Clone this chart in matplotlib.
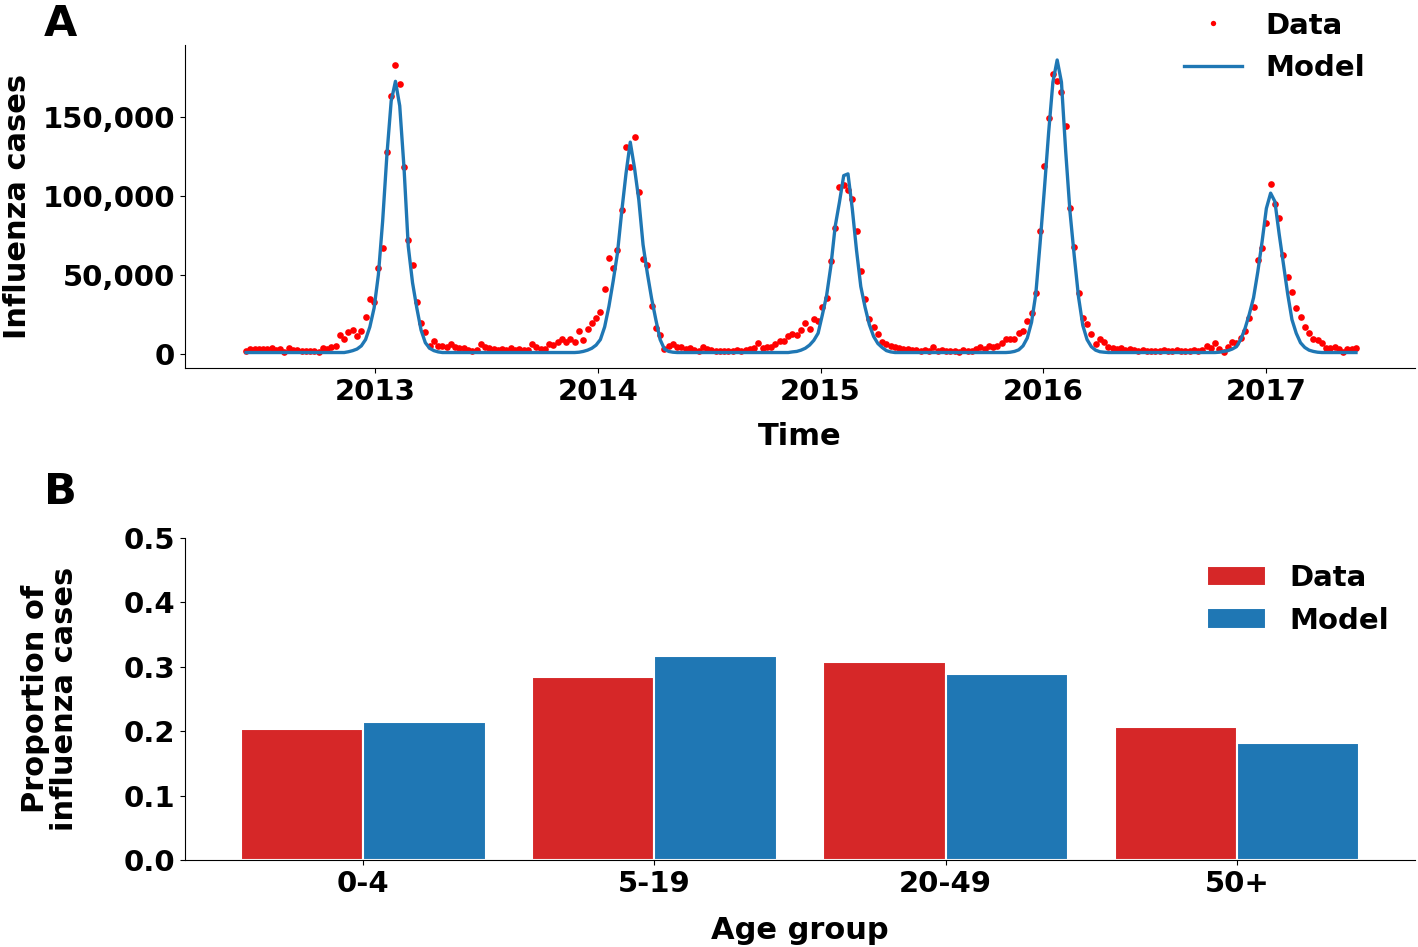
import matplotlib
matplotlib.use("Agg")
import matplotlib.pyplot as plt
import matplotlib.dates as mdates
from matplotlib.ticker import FuncFormatter
import numpy as np
import pandas as pd

# ---------------- Data (panel A): weekly influenza cases, in thousands ----------------
first_week = "2012-06-03"

cases_k = [
    # 2012-13 season
    1.5, 2.8, 3.2, 2.8, 3.0, 2.8, 3.5, 2.6, 3.0, 1.0, 3.6, 2.5, 2.2, 1.8, 2.0, 1.8, 1.5, 1.0, 3.5, 3.0, 4.5, 5.0,
    12, 9.5, 14, 15, 11.4, 14.6, 23, 35, 33, 54, 67, 128, 163, 183, 171, 118, 72, 56, 33, 19.6, 14, 5, 8,
    5, 5, 4, 6, 4.5, 3.5, 3.5, 2.5, 1.5, 2.5, 6.3, 4.5, 3.5, 3, 2.5, 3, 2.5, 3.5, 2.5, 3, 2.5, 2.5, 6.3, 4, 3.3, 3.3,
    # 2013-14 season
    6, 5.7, 7.6, 9.5, 7.6, 9.5, 7.6, 14.6, 8.9, 15.8, 19.6, 22.8, 26.6, 41, 60.8, 54, 66, 91, 131, 118, 137, 102.5,
    60, 56, 30, 16.5, 12, 3,
    5, 6, 4, 4, 3, 3.5, 2.5, 2, 4.4, 3.0, 2.5, 1.8, 1.5, 1.5, 2, 1.5, 2.5, 2, 2.5, 3, 3.5, 7, 3.5, 4, 4.5, 6,
    # 2014-15 season
    8, 8, 11.4, 12.7, 12, 15, 19.6, 15.8, 22, 21, 29.7, 35.4, 58.9, 79.8, 105.7, 107, 104, 98, 78, 52.5,
    34.8, 22, 17, 12.7, 7.6,
    6, 5, 4, 3.5, 3, 3, 2.5, 2.5, 2, 2.5, 2, 4.4, 2, 2.5, 1.5, 2, 1.5, 1, 2.5, 2, 1.5, 3,
    # 2015-16 season
    4.4, 3, 5, 4, 5, 7, 9.5, 9.5, 9.5, 13.3, 14.6, 21, 26, 38.6, 77.9, 119, 149, 177, 173, 166, 144, 92, 67.7,
    38.6, 22.8, 19, 12.7, 6.3, 9.5, 7.6,
    4.4, 3.5, 3, 3.5, 2.5, 3, 2.5, 2, 2.5, 2, 2, 1.5, 2, 2.5, 1.5, 2, 2.5, 2, 1.5, 2, 2.5, 2, 2.5,
    # 2016-17 season
    5, 3.8, 7, 3, 1.3, 4.4, 7.6, 7, 10, 14.6, 22.8, 29.7, 59.5, 67, 83, 107.6, 95, 86, 62.7, 48.7,
    39, 29, 23.4, 17, 13.3, 9.5, 9, 7, 3.8, 3.5, 4, 3, 1.3, 3, 3, 3.5,
]

model_k = [
    0.8, 0.8, 0.8, 0.8, 0.8, 0.8, 0.8, 0.8, 0.8, 0.8, 0.8, 0.8, 0.8, 0.8, 0.8, 0.8, 0.8, 0.8, 0.8, 0.8, 0.8, 0.8, 0.8, 0.8,
    1.3, 2, 3, 5, 9, 17, 29, 50, 84, 126, 160, 172.5, 157, 118, 68, 45, 29, 15, 7, 3.5, 2, 1.2,
    0.8, 0.8, 0.8, 0.8, 0.8, 0.8, 0.8, 0.8, 0.8, 0.8, 0.8, 0.8, 0.8, 0.8, 0.8, 0.8,
    0.8, 0.8, 0.8, 0.8, 0.8, 0.8, 0.8, 0.8, 0.8, 0.8, 0.8, 0.8, 0.8, 0.8, 0.8, 0.8,
    1.0, 1.5, 2.3, 3.5, 5.5, 9, 17, 30, 46, 63.7, 90, 114, 134, 117.5, 97.5, 69, 51, 35, 21.5, 9, 3, 1.5, 1.0,
    0.8, 0.8, 0.8, 0.8, 0.8, 0.8, 0.8, 0.8, 0.8, 0.8, 0.8, 0.8, 0.8, 0.8,
    0.8, 0.8, 0.8, 0.8, 0.8, 0.8, 0.8, 0.8, 0.8, 0.8, 0.8, 0.8, 0.8,
    1.2, 1.5, 2.3, 3.5, 5.5, 8.5, 13, 24.7, 37, 55.7, 80.6, 96, 112.8, 113.9, 92, 65.5, 42.6, 29.5, 18.5, 11,
    6.5, 4, 2, 1.2,
    0.8, 0.8, 0.8, 0.8, 0.8, 0.8, 0.8, 0.8, 0.8, 0.8, 0.8, 0.8, 0.8, 0.8,
    0.8, 0.8, 0.8, 0.8, 0.8, 0.8, 0.8, 0.8, 0.8, 0.8, 0.8, 0.8, 0.8,
    1.0, 1.5, 2.5, 5, 10, 20, 38, 70, 104, 140, 172, 186, 172, 128, 90, 62, 36, 18, 9, 4.5, 2.3, 1.3, 1.0,
    0.8, 0.8, 0.8, 0.8, 0.8, 0.8, 0.8, 0.8, 0.8, 0.8, 0.8, 0.8, 0.8,
    0.8, 0.8, 0.8, 0.8, 0.8, 0.8, 0.8, 0.8, 0.8, 0.8, 0.8, 0.8, 0.8,
    1.0, 1.5, 2, 3, 4.5, 9, 16, 25, 35.5, 52, 71, 92, 101.7, 96.4, 75.8, 56.7, 37.8, 21.6, 13, 7, 4, 2.3, 1.5, 1.0,
    0.8, 0.8, 0.8, 0.8, 0.8, 0.8, 0.8, 0.8, 0.8,
]

# ---------------- Data (panel B): proportion of cases by age group ----------------
age_groups = ["0-4", "5-19", "20-49", "50+"]
prop_data = [0.203, 0.284, 0.307, 0.206]
prop_model = [0.214, 0.317, 0.289, 0.182]

# ---------------- Style ----------------
plt.rcParams['font.family'] = ['DejaVu Sans']
plt.rcParams['font.weight'] = 'bold'
plt.rcParams['axes.labelweight'] = 'bold'

RED_PT = '#ff0000'
BLUE = '#1f77b4'
RED_BAR = '#d62728'

weeks = pd.date_range(first_week, periods=len(cases_k), freq="7D")
cases = np.array(cases_k) * 1000.0
model = np.array(model_k) * 1000.0

fig = plt.figure(figsize=(14.18, 9.47), dpi=100)

# ---------------- Panel A ----------------
axA = fig.add_axes([0.1305, 0.6114, 0.8675, 0.3411])
axA.plot(weeks, cases, 'o', color=RED_PT, ms=4.8, mec='none', label='Data', zorder=2)
axA.plot(weeks, model, '-', color=BLUE, lw=2.4, label='Model', zorder=3)
axA.set_xlim(pd.Timestamp("2012-02-24"), pd.Timestamp("2017-09-02"))
axA.set_ylim(-9000, 195500)
axA.set_yticks([0, 50000, 100000, 150000])
axA.yaxis.set_major_formatter(FuncFormatter(lambda v, p: f"{int(v):,}"))
axA.xaxis.set_major_locator(mdates.YearLocator())
axA.xaxis.set_major_formatter(mdates.DateFormatter('%Y'))
axA.spines['top'].set_visible(False)
axA.spines['right'].set_visible(False)
axA.tick_params(labelsize=21)
axA.set_ylabel('Influenza cases', fontsize=22, labelpad=8)
axA.set_xlabel('Time', fontsize=22, labelpad=12)
axA.legend(frameon=False, fontsize=21, loc='upper right', bbox_to_anchor=(0.971, 1.0),
           bbox_transform=fig.transFigure, markerscale=0.8, labelspacing=0.5, borderaxespad=0)

# ---------------- Panel B ----------------
axB = fig.add_axes([0.1305, 0.0919, 0.8675, 0.3400])
x = np.arange(len(age_groups))
w = 0.42
axB.bar(x - w / 2, prop_data, w, color=RED_BAR, edgecolor='white', lw=1.5, label='Data')
axB.bar(x + w / 2, prop_model, w, color=BLUE, edgecolor='white', lw=1.5, label='Model')
axB.set_xticks(x)
axB.set_xticklabels(age_groups)
axB.set_ylim(0, 0.5)
axB.set_yticks([0.0, 0.1, 0.2, 0.3, 0.4, 0.5])
axB.yaxis.set_major_formatter(FuncFormatter(lambda v, p: f"{v:.1f}"))
axB.spines['top'].set_visible(False)
axB.spines['right'].set_visible(False)
axB.tick_params(labelsize=21)
axB.set_ylabel('Proportion of\ninfluenza cases', fontsize=22, linespacing=1.0, labelpad=32)
axB.set_xlabel('Age group', fontsize=22, labelpad=13)
axB.legend(frameon=False, fontsize=21, loc='upper right', labelspacing=0.5)

fig.text(0.031, 0.997, 'A', fontsize=31, fontweight='heavy', va='top', ha='left')
fig.text(0.031, 0.503, 'B', fontsize=31, fontweight='heavy', va='top', ha='left')

fig.savefig('out.png', dpi=100)
